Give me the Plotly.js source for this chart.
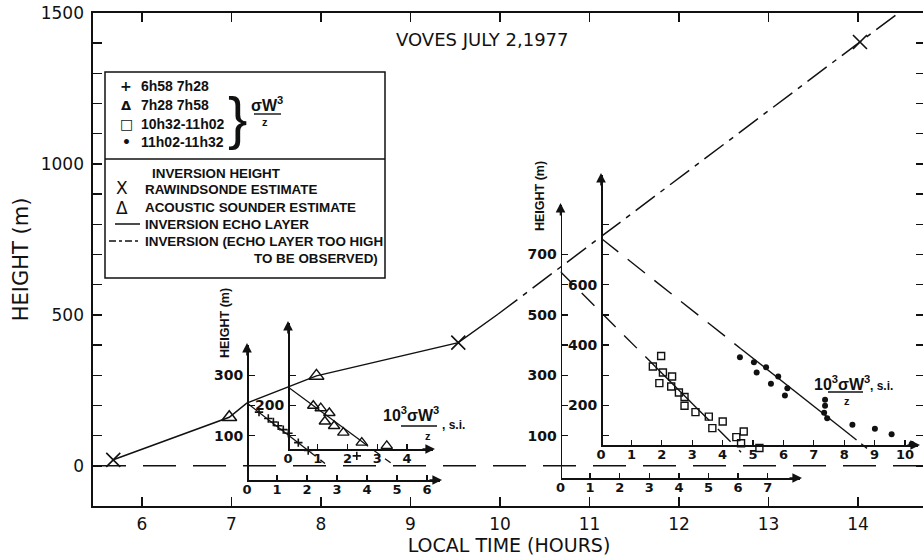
<!DOCTYPE html>
<html>
<head>
<meta charset="utf-8">
<script src="https://cdn.plot.ly/plotly-3.0.1.min.js"></script>
<style>
  html, body { margin: 0; padding: 0; background: #fff; overflow: hidden; }
  #chart { width: 925px; height: 559px; }
</style>
</head>
<body>
<div id="chart"></div>
<script>
// ---- Inversion height versus local time (hours, m) ----
const echoTime      = [5.679, 6.975, 7.17, 7.949, 9.534, 9.98];
const echoHeight    = [20, 161, 208, 298, 408, 503];
const highTime      = [9.98, 14.022, 14.6];
const highHeight    = [503, 1404, 1533];
const rawinTime     = [5.679, 9.534, 14.022];
const rawinHeight   = [20, 408, 1404];
const sounderTime   = [6.975, 7.949];
const sounderHeight = [161, 298];

// ---- 10^3 sigma_w^3 / z (s.i.) profiles against height (m) ----
const plusFlux     = [0.40, 0.71, 0.88, 1.04, 1.21, 1.38, 1.71, 2.04, 3.66];
const plusHeight   = [178, 157, 145, 133, 120, 108, 77, 51, 33];
const triFlux      = [0.85, 1.10, 1.39, 1.24, 1.55, 1.86, 2.48, 3.32];
const triHeight    = [199, 191, 175, 147, 132, 110, 77, 66];
const squareFlux   = [3.40, 3.12, 3.46, 3.77, 3.34, 3.74, 4.00, 4.19, 4.19, 4.56, 5.01, 5.13, 5.48, 5.94, 6.19, 6.10, 6.72];
const squareHeight = [364, 329, 309, 296, 274, 263, 243, 228, 199, 178, 163, 125, 147, 95, 114, 75, 59];
const dotFlux      = [4.57, 5.03, 5.12, 5.43, 5.59, 5.83, 6.05, 6.13, 7.37, 7.37, 7.34, 7.44, 8.27, 9.01, 9.56, 10.22];
const dotHeight    = [360, 343, 309, 327, 272, 296, 233, 257, 219, 199, 176, 158, 136, 123, 105, 72];

// fitted lines (solid where drawn through the data, dashed where extrapolated)
const plusFitSolidFlux = [0, 2.05];   const plusFitSolidHeight = [208, 50];
const plusFitDashFlux  = [2.05, 2.6]; const plusFitDashHeight  = [50, 8];
const triFitSolidFlux  = [0, 2.45];   const triFitSolidHeight  = [261, 83];
const triFitDashFlux   = [2.45, 3.45];const triFitDashHeight   = [83, 10];
const sqFitDashAFlux   = [0, 3.2];    const sqFitDashAHeight   = [643, 329];
const sqFitSolidFlux   = [3.2, 4.6];  const sqFitSolidHeight   = [329, 192];
const sqFitDashBFlux   = [4.6, 6.1];  const sqFitDashBHeight   = [192, 45];
const dotFitDashAFlux  = [0, 4.6];    const dotFitDashAHeight  = [754, 388];
const dotFitSolidFlux  = [4.6, 8.2];  const dotFitSolidHeight  = [388, 102];
const dotFitDashBFlux  = [8.2, 8.75]; const dotFitDashBHeight  = [102, 58];

// ---- tick labels ----
const hourTicks   = [6, 7, 8, 9, 10, 11, 12, 13, 14];
const heightTicks = [0, 100, 200, 300, 400, 500, 600, 700, 800, 900, 1000, 1100, 1200, 1300, 1400, 1500];
const heightLabels= ['0', '', '', '', '', '500', '', '', '', '', '1000', '', '', '', '', '1500'];
const fluxTicksA = [0, 1, 2, 3, 4, 5, 6];
const fluxTicksB = [0, 1, 2, 3, 4];
const fluxTicksC = [0, 1, 2, 3, 4, 5, 6, 7];
const fluxTicksD = [0, 1, 2, 3, 4, 5, 6, 7, 8, 9, 10];
const hTicksA = [100, 200, 300];           const hLabelsA = ['100', '', '300'];
const hTicksB = [100, 200, 300];           const hLabelsB = ['', '200', ''];
const hTicksC = [100, 200, 300, 400, 500, 600, 700]; const hLabelsC = ['100', '', '300', '', '500', '', '700'];
const hTicksD = [100, 200, 300, 400, 500, 600, 700, 800]; const hLabelsD = ['', '200', '', '400', '', '600', '', ''];

// ---- page geometry (the frame's right edge sits just past the window) ----
const W = 925, H = 559, ML = 93, MR = 0, MT = 13, MB = 53;
const PW = W - ML - MR, PH = H - MT - MB;
const X_RANGE = [5.4525, 14.7486];
const Y_RANGE = [-133, 1500];
const fx = px => (px - ML) / PW;
const fy = py => (H - MB - py) / PH;
const hOf = py => Y_RANGE[0] + fy(py) * (Y_RANGE[1] - Y_RANGE[0]);

const INK = '#111';
const NUM = 'DejaVu Sans';
const LET = 'Liberation Sans';

// inset axes: origin (px), pixels per unit, arrow tip (px), baseline (py), top (py)
const insets = {
  A: { x0: 247,   unit: 30.0,  tip: 440, base: 480, top: 345 },
  B: { x0: 288,   unit: 29.75, tip: 433, base: 449, top: 323 },
  C: { x0: 560.5, unit: 29.6,  tip: 800, base: 478, top: 205 },
  D: { x0: 601,   unit: 30.4,  tip: 918, base: 445, top: 175 }
};

function insetX(g, ticks) {
  return {
    domain: [fx(g.x0), fx(g.tip)], range: [0, (g.tip - g.x0) / g.unit],
    anchor: 'free', position: fy(g.base),
    showline: true, linecolor: INK, linewidth: 1.6,
    ticks: 'inside', ticklen: 5, tickwidth: 1.3, tickcolor: INK,
    tickvals: ticks, ticktext: ticks.map(String),
    tickfont: { family: NUM, size: 13, color: INK, weight: 'bold' },
    ticklabelstandoff: -3,
    showgrid: false, zeroline: false, fixedrange: true
  };
}
function insetY(g, ticks, labels) {
  return {
    domain: [fy(g.base), fy(g.top)], range: [hOf(g.base), hOf(g.top)],
    anchor: 'free', position: fx(g.x0), side: 'left',
    showline: true, linecolor: INK, linewidth: 1.6,
    ticks: 'inside', ticklen: 6, tickwidth: 1.3, tickcolor: INK,
    tickvals: ticks, ticktext: labels,
    tickfont: { family: NUM, size: 14, color: INK, weight: 'bold' },
    ticklabelstandoff: 1,
    showgrid: false, zeroline: false, fixedrange: true
  };
}

function line(x, y, xa, dash, width) {
  return { x, y, xaxis: xa, yaxis: 'y', type: 'scatter', mode: 'lines',
           line: { color: INK, width: width || 1.4, dash: dash || 'solid' },
           hoverinfo: 'skip', showlegend: false };
}
function pts(x, y, xa, symbol, size, lw) {
  return { x, y, xaxis: xa, yaxis: 'y', type: 'scatter', mode: 'markers',
           marker: { symbol, size, color: INK, line: { color: INK, width: lw } },
           cliponaxis: false, hoverinfo: 'skip', showlegend: false };
}
// registers an inset's vertical height axis so that it gets drawn
function axisHolder(xa, ya) {
  return { x: [], y: [], xaxis: xa, yaxis: ya, type: 'scatter', mode: 'lines',
           hoverinfo: 'skip', showlegend: false };
}

const DASH_FIT = '9px,6px';
const DASH_DOT = '24px,7px,5px,7px';

const traces = [
  axisHolder('x2', 'y2'), axisHolder('x3', 'y3'), axisHolder('x4', 'y4'), axisHolder('x5', 'y5'),

  // main inversion height
  line(echoTime, echoHeight, 'x', 'solid', 1.5),
  line(highTime, highHeight, 'x', DASH_DOT, 1.5),
  pts(rawinTime, rawinHeight, 'x', 'x-thin-open', 14, 1.6),
  pts(sounderTime, sounderHeight, 'x', 'triangle-up-open', 13, 1.5),

  // 6h58-7h28 (+)
  line(plusFitSolidFlux, plusFitSolidHeight, 'x2', 'solid', 1.3),
  line(plusFitDashFlux, plusFitDashHeight, 'x2', DASH_FIT, 1.3),
  pts(plusFlux, plusHeight, 'x2', 'cross-thin-open', 6, 1.6),

  // 7h28-7h58 (triangles)
  line(triFitSolidFlux, triFitSolidHeight, 'x3', 'solid', 1.3),
  line(triFitDashFlux, triFitDashHeight, 'x3', DASH_FIT, 1.3),
  pts(triFlux, triHeight, 'x3', 'triangle-up-open', 10, 1.4),

  // 10h32-11h02 (squares)
  line(sqFitDashAFlux, sqFitDashAHeight, 'x4', '18px,12px', 1.4),
  line(sqFitSolidFlux, sqFitSolidHeight, 'x4', 'solid', 1.4),
  line(sqFitDashBFlux, sqFitDashBHeight, 'x4', '18px,12px', 1.4),
  pts(squareFlux, squareHeight, 'x4', 'square-open', 7, 1.4),

  // 11h02-11h32 (dots)
  line(dotFitDashAFlux, dotFitDashAHeight, 'x5', '22px,12px', 1.4),
  line(dotFitSolidFlux, dotFitSolidHeight, 'x5', 'solid', 1.4),
  line(dotFitDashBFlux, dotFitDashBHeight, 'x5', '8px,6px', 1.4),
  pts(dotFlux, dotHeight, 'x5', 'circle', 6, 0)
];

function txt(px, py, text, o) {
  o = o || {};
  return {
    xref: 'paper', yref: 'paper', x: fx(px), y: fy(py), text, showarrow: false,
    xanchor: o.xanchor || 'center', yanchor: o.yanchor || 'middle',
    textangle: o.angle || 0,
    font: { family: o.family || LET, size: o.size || 13, color: INK, weight: o.weight || 'normal' }
  };
}
function arrowTip(px, py, dx, dy) {
  return { xref: 'paper', yref: 'paper', x: fx(px), y: fy(py), ax: dx, ay: dy,
           text: '', showarrow: true, arrowhead: 2, arrowsize: 1.2, arrowwidth: 1.6,
           arrowcolor: INK, standoff: 0 };
}

const LEG = { left: 105, right: 385, top: 72, mid: 159, bottom: 278 };
const LB = { family: LET, size: 13.4, weight: 'bold' };

const annotations = [
  txt(482, 40, 'VOVES JULY 2,1977', { family: NUM, size: 18 }),

  // legend, upper block
  txt(126, 86, '+', { family: NUM, size: 14, weight: 'bold' }),
  txt(126, 105, 'Δ', { family: NUM, size: 13, weight: 'bold' }),
  txt(126, 124, '□', { family: NUM, size: 14, weight: 'bold' }),
  txt(126, 142, '•', { family: NUM, size: 14, weight: 'bold' }),
  txt(139, 86, '6h58 7h28', { xanchor: 'left', size: 14, weight: 'bold' }),
  txt(139, 105, '7h28 7h58', { xanchor: 'left', size: 14, weight: 'bold' }),
  txt(139, 124, '10h32-11h02', { xanchor: 'left', size: 14, weight: 'bold' }),
  txt(139, 142, '11h02-11h32', { xanchor: 'left', size: 14, weight: 'bold' }),
  txt(237, 118, '}', { family: LET, size: 58 }),
  txt(267, 104, 'σW<sup>3</sup>', { size: 16, weight: 'bold' }),
  txt(265, 122, 'z', { size: 11, weight: 'bold' }),

  // legend, lower block
  txt(150, 173, 'INVERSION HEIGHT', Object.assign({ xanchor: 'left' }, LB)),
  txt(122, 188, 'X', { family: NUM, size: 17 }),
  txt(143, 190, 'RAWINDSONDE ESTIMATE', Object.assign({ xanchor: 'left' }, LB)),
  txt(122, 208, 'Δ', { family: NUM, size: 17 }),
  txt(143, 207, 'ACOUSTIC SOUNDER ESTIMATE', Object.assign({ xanchor: 'left' }, LB)),
  txt(143, 224, 'INVERSION ECHO LAYER', Object.assign({ xanchor: 'left' }, LB)),
  txt(143, 241, 'INVERSION (ECHO LAYER TOO HIGH', Object.assign({ xanchor: 'left' }, LB)),
  txt(380, 258, 'TO BE OBSERVED)', Object.assign({ xanchor: 'right' }, LB)),

  // inset height titles
  txt(225, 323, 'HEIGHT (m)', { angle: -90, size: 12.5, weight: 'bold' }),
  txt(540, 196, 'HEIGHT (m)', { angle: -90, size: 12.5, weight: 'bold' }),

  // flux labels
  txt(411, 414, '10<sup>3</sup>σW<sup>3</sup>', { size: 16, weight: 'bold' }),
  txt(440, 425, ', s.i.', { xanchor: 'left', size: 12, weight: 'bold' }),
  txt(428, 436, 'z', { size: 11, weight: 'bold' }),
  txt(842, 383, '10<sup>3</sup>σW<sup>3</sup>', { size: 16, weight: 'bold' }),
  txt(868, 386, ', s.i.', { xanchor: 'left', size: 12, weight: 'bold' }),
  txt(847, 401, 'z', { size: 11, weight: 'bold' })
];

// arrowheads on the inset axes
['A', 'B', 'C', 'D'].forEach(k => {
  const g = insets[k];
  annotations.push(arrowTip(g.tip + 2, g.base, -14, 0));
  annotations.push(arrowTip(g.x0, g.top - 2, 0, 14));
});

const shapes = [
  // ground level
  { type: 'line', xref: 'paper', yref: 'y', x0: 0, x1: 1, y0: 0, y1: 0,
    line: { color: INK, width: 1.5, dash: '33px,17px' } },
  // legend frame
  { type: 'rect', xref: 'paper', yref: 'paper', x0: fx(LEG.left), x1: fx(LEG.right),
    y0: fy(LEG.bottom), y1: fy(LEG.top), line: { color: INK, width: 1.5 }, fillcolor: 'rgba(0,0,0,0)' },
  { type: 'line', xref: 'paper', yref: 'paper', x0: fx(LEG.left), x1: fx(LEG.right),
    y0: fy(LEG.mid), y1: fy(LEG.mid), line: { color: INK, width: 1.5 } },
  // legend line samples
  { type: 'line', xref: 'paper', yref: 'paper', x0: fx(115), x1: fx(140), y0: fy(224), y1: fy(224),
    line: { color: INK, width: 1.5 } },
  { type: 'line', xref: 'paper', yref: 'paper', x0: fx(109), x1: fx(140), y0: fy(241), y1: fy(241),
    line: { color: INK, width: 1.5, dash: '7px,3px,3px,3px' } },
  // fraction bars
  { type: 'line', xref: 'paper', yref: 'paper', x0: fx(254), x1: fx(281), y0: fy(114), y1: fy(114),
    line: { color: INK, width: 1.4 } },
  { type: 'line', xref: 'paper', yref: 'paper', x0: fx(401), x1: fx(437), y0: fy(426), y1: fy(426),
    line: { color: INK, width: 1.4 } },
  { type: 'line', xref: 'paper', yref: 'paper', x0: fx(828), x1: fx(863), y0: fy(392), y1: fy(392),
    line: { color: INK, width: 1.4 } }
];

const layout = {
  width: W, height: H, autosize: false,
  margin: { l: ML, r: MR, t: MT, b: MB, pad: 0 },
  paper_bgcolor: '#fff', plot_bgcolor: 'rgba(0,0,0,0)',
  showlegend: false,
  xaxis: {
    range: X_RANGE, domain: [0, 1], anchor: 'y',
    showline: true, linecolor: INK, linewidth: 1.6, mirror: 'ticks',
    ticks: 'inside', ticklen: 9, tickwidth: 1.4, tickcolor: INK,
    tickvals: hourTicks, ticktext: hourTicks.map(String),
    tickfont: { family: NUM, size: 17, color: INK },
    ticklabelstandoff: 2,
    showgrid: false, zeroline: false, fixedrange: true,
    title: { text: 'LOCAL TIME (HOURS)', font: { family: NUM, size: 19, color: INK }, standoff: 4 }
  },
  yaxis: {
    range: Y_RANGE, domain: [0, 1], anchor: 'x',
    showline: true, linecolor: INK, linewidth: 1.6, mirror: 'ticks',
    ticks: 'inside', ticklen: 9, tickwidth: 1.4, tickcolor: INK,
    tickvals: heightTicks, ticktext: heightLabels,
    tickfont: { family: NUM, size: 17, color: INK },
    ticklabelstandoff: 4,
    showgrid: false, zeroline: false, fixedrange: true,
    title: { text: 'HEIGHT (m)', font: { family: NUM, size: 21, color: INK }, standoff: 6 }
  },
  xaxis2: insetX(insets.A, fluxTicksA),
  xaxis3: insetX(insets.B, fluxTicksB),
  xaxis4: insetX(insets.C, fluxTicksC),
  xaxis5: insetX(insets.D, fluxTicksD),
  yaxis2: insetY(insets.A, hTicksA, hLabelsA),
  yaxis3: insetY(insets.B, hTicksB, hLabelsB),
  yaxis4: insetY(insets.C, hTicksC, hLabelsC),
  yaxis5: insetY(insets.D, hTicksD, hLabelsD),
  annotations, shapes
};

Plotly.newPlot('chart', traces, layout, { displayModeBar: false, staticPlot: true });
</script>
</body>
</html>
